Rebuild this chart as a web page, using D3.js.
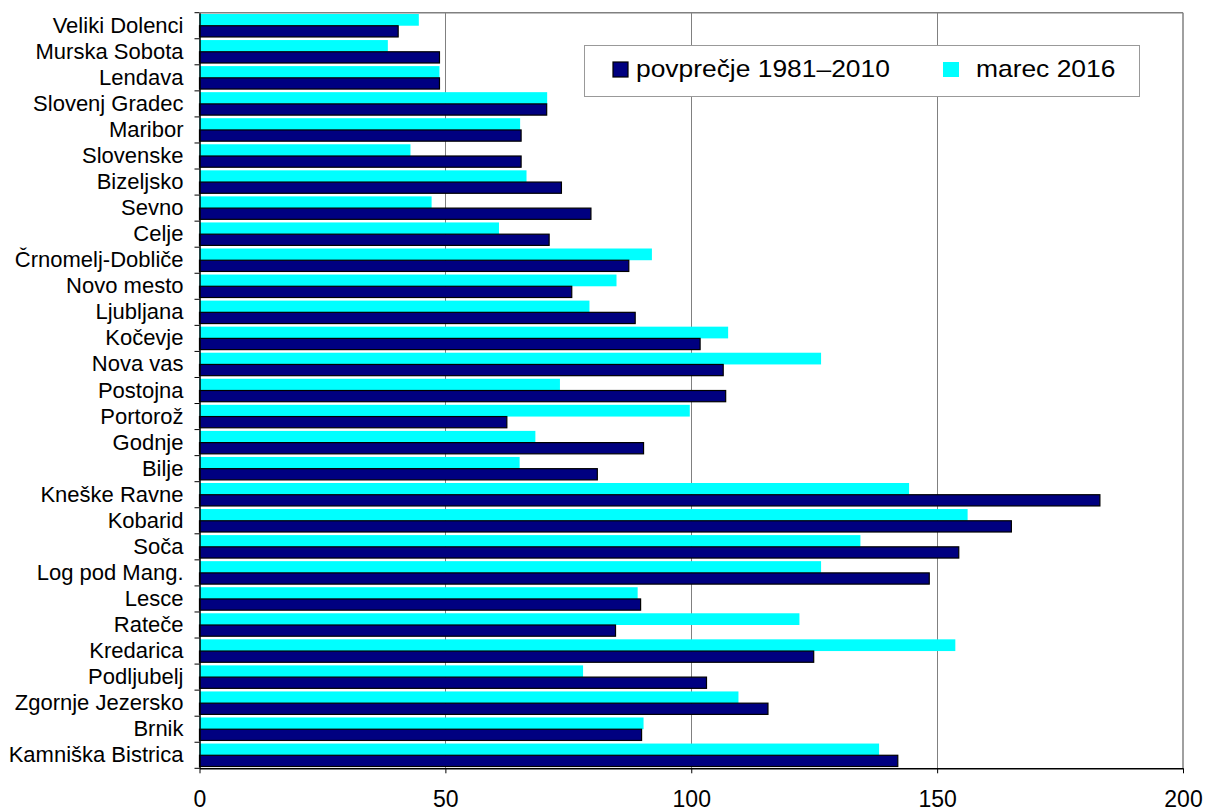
<!DOCTYPE html>
<html>
<head>
<meta charset="utf-8">
<script src="https://cdn.jsdelivr.net/npm/d3@7"></script>
<style>
html,body{margin:0;padding:0;background:#fff;}
svg{display:block;font-family:"Liberation Sans",Arial,Helvetica,sans-serif;}
</style>
</head>
<body>
<svg id="chart" width="1206" height="812"></svg>
<script>
const categories = ["Veliki Dolenci","Murska Sobota","Lendava","Slovenj Gradec","Maribor","Slovenske","Bizeljsko","Sevno","Celje","Črnomelj-Dobliče","Novo mesto","Ljubljana","Kočevje","Nova vas","Postojna","Portorož","Godnje","Bilje","Kneške Ravne","Kobarid","Soča","Log pod Mang.","Lesce","Rateče","Kredarica","Podljubelj","Zgornje Jezersko","Brnik","Kamniška Bistrica"];
const povprecje = [40.4,48.8,48.8,70.6,65.4,65.4,73.6,79.6,71.1,87.3,75.7,88.6,101.8,106.5,107.0,62.5,90.3,80.9,183.1,165.1,154.4,148.4,89.7,84.6,124.9,103.1,115.6,89.9,142.0];
const marec2016 = [44.6,38.3,48.8,70.7,65.2,42.9,66.5,47.2,60.9,92.0,84.8,79.3,107.5,126.4,73.3,99.7,68.3,65.1,144.3,156.2,134.4,126.4,89.1,122.0,153.7,78.0,109.6,90.3,138.2];
const xTicks = [0,50,100,150,200];
const seriesNames = ["povprečje 1981–2010","marec 2016"];

const svg = d3.select("#chart");
const L = 199.5, R = 1183, T = 12.7, B = 768.3;

const x = d3.scaleLinear().domain([0,200]).range([L,R]);
const y = d3.scaleBand().domain(categories).range([T,B]).paddingInner(0.1).paddingOuter(0.05);
const sub = d3.scaleBand().domain(["marec","povp"]).range([0,y.bandwidth()]);

// gridlines
svg.append("g").selectAll("line").data(xTicks.filter(d=>d>0&&d<200)).join("line")
  .attr("x1",d=>Math.round(x(d))+0.5).attr("x2",d=>Math.round(x(d))+0.5)
  .attr("y1",T).attr("y2",B).attr("stroke","#808080").attr("stroke-width",1);
// top and right border
svg.append("line").attr("x1",L).attr("x2",R).attr("y1",T).attr("y2",T).attr("stroke","#808080").attr("stroke-width",1.5);
svg.append("line").attr("x1",R).attr("x2",R).attr("y1",T).attr("y2",B).attr("stroke","#808080").attr("stroke-width",1.5);

const groups = svg.append("g").selectAll("g").data(categories).join("g")
  .attr("transform",d=>`translate(0,${y(d)})`);

groups.append("rect")
  .attr("x",x(0)).attr("y",sub("marec"))
  .attr("width",(d,i)=>x(marec2016[i])-x(0)).attr("height",sub.bandwidth())
  .attr("fill","#00ffff");
groups.append("rect")
  .attr("x",x(0)).attr("y",sub("povp"))
  .attr("width",(d,i)=>x(povprecje[i])-x(0)).attr("height",sub.bandwidth()-0.5)
  .attr("fill","#000080").attr("stroke","#000").attr("stroke-width",1.2);

// y axis
const yAxis = svg.append("g").attr("transform",`translate(${L},0)`)
  .call(d3.axisLeft(y).tickSize(0).tickPadding(16));
yAxis.select(".domain").attr("stroke","#000").attr("stroke-width",1.5);
yAxis.selectAll("text").attr("font-size",22).attr("fill","#000")
  .attr("font-family","'Liberation Sans',Arial,sans-serif");
// band boundary ticks
const bounds = categories.map(c=>y(c)-y.step()*y.paddingInner()/2).concat([B]);
svg.append("g").selectAll("line").data(bounds).join("line")
  .attr("x1",L-5).attr("x2",L).attr("y1",d=>d).attr("y2",d=>d)
  .attr("stroke","#000").attr("stroke-width",1);

// x axis
const xAxis = svg.append("g").attr("transform",`translate(0,${B})`)
  .call(d3.axisBottom(x).tickValues(xTicks).tickSize(5).tickPadding(17).tickSizeOuter(0));
xAxis.select(".domain").attr("stroke","#000").attr("stroke-width",1.5);
xAxis.selectAll(".tick line").attr("stroke","#000");
xAxis.selectAll("text").attr("font-size",23).attr("fill","#000")
  .attr("font-family","'Liberation Sans',Arial,sans-serif");

// legend
const lg = svg.append("g");
lg.append("rect").attr("x",584.5).attr("y",45.5).attr("width",555).attr("height",51)
  .attr("fill","#fff").attr("stroke","#999").attr("stroke-width",1);
lg.append("rect").attr("x",613).attr("y",62).attr("width",15).attr("height",15)
  .attr("fill","#000080").attr("stroke","#000").attr("stroke-width",1.2);
lg.append("text").attr("x",636).attr("y",77).attr("font-size",24)
  .attr("transform","translate(636,0) scale(1.1,1) translate(-636,0)")
  .text(seriesNames[0]);
lg.append("rect").attr("x",943).attr("y",62).attr("width",16).attr("height",15)
  .attr("fill","#00ffff");
lg.append("text").attr("x",976).attr("y",77).attr("font-size",24)
  .attr("transform","translate(976,0) scale(1.1,1) translate(-976,0)")
  .text(seriesNames[1]);
</script>
</body>
</html>
